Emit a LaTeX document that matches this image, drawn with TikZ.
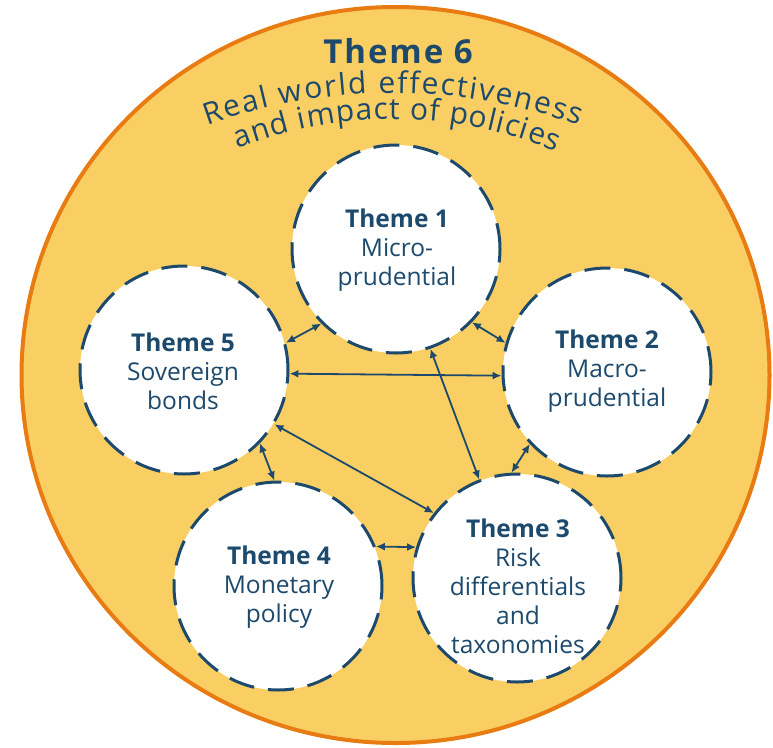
\documentclass[tikz,border=0pt]{standalone}
\usepackage{fontspec}
\setmainfont{Open Sans}
\usetikzlibrary{arrows.meta,decorations.text,shapes.geometric}
\definecolor{navy}{HTML}{1D4A6C}
\definecolor{sun}{HTML}{F9CF63}
\definecolor{orangeb}{HTML}{E87C12}
\begin{document}
\begin{tikzpicture}[x=1pt,y=-1pt,
  outer/.style={ellipse, draw=orangeb, fill=sun, line width=4pt, minimum width=748pt, minimum height=736pt, inner sep=0pt},
  theme/.style={circle, draw=navy, line width=3pt, dash pattern=on 26pt off 14pt, fill=white, minimum size=208pt, inner sep=0pt},
  themetext/.style={text=navy, align=center, inner sep=0pt, font=\fontsize{24.5}{29}\selectfont},
  link/.style={draw=navy, line width=1.8pt, {Latex[length=9pt,width=8pt]}-{Latex[length=9pt,width=8pt]}}]
\useasboundingbox (0,0) rectangle (773,747);
\node[outer] (t6) at (395.5,375) {};
\node[text=navy, inner sep=0pt, anchor=base] (t6title) at (398,63) {\fontsize{33}{33}\selectfont\bfseries\addfontfeature{LetterSpace=6}Theme 6};
\path[decorate, decoration={text along path, text align=fit to path,
  text={|\color{navy}\fontsize{30}{30}\selectfont|Real world effectiveness}}]
  (393,639) ++(250.1:546) arc[start angle=250.1, end angle=289.9, radius=546];
\path[decorate, decoration={text along path, text align=fit to path,
  text={|\color{navy}\fontsize{30}{30}\selectfont|and impact of policies}}]
  (393,547) ++(248.7:428) arc[start angle=248.7, end angle=292.4, radius=428];
\node[theme] (t1) at (396,249) {};
\node[theme] (t2) at (607,372) {};
\node[theme] (t3) at (517,578) {};
\node[theme] (t4) at (278,586) {};
\node[theme] (t5) at (184,370) {};
\node[themetext] (l1) at (397,250) {\textbf{Theme 1}\\Micro-\\prudential};
\node[themetext] (l2) at (607,371.5) {\textbf{Theme 2}\\Macro-\\prudential};
\node[themetext] (l3) at (518,586) {\textbf{Theme 3}\\Risk\\differentials\\and\\taxonomies};
\node[themetext] (l4) at (279,587.5) {\textbf{Theme 4}\\Monetary\\policy};
\node[themetext] (l5) at (183,371) {\textbf{Theme 5}\\Sovereign\\bonds};
\draw[link] (t5.15) -- (t1.-135);
\draw[link] (t1.-44.6) -- (t2.164);
\draw[link] (t5.-2.7) -- (t2.-178.4);
\draw[link] (t1.-71) -- (t3.111);
\draw[link] (t5.-31.6) -- (t3.142.5);
\draw[link] (t5.-44.6) -- (t4.92);
\draw[link] (t2.-137.3) -- (t3.93);
\draw[link] (t4.22.6) -- (t3.163);
\end{tikzpicture}
\end{document}
